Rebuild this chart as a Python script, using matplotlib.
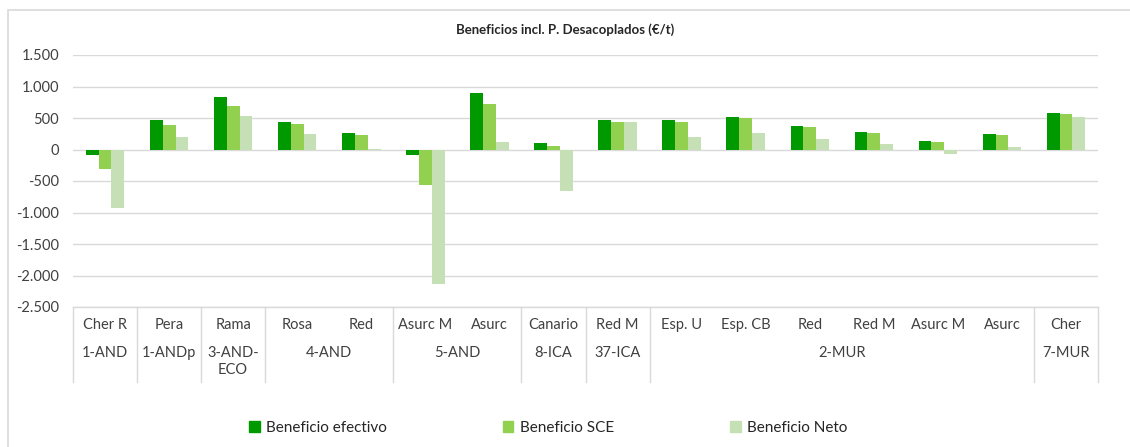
import numpy as np
import matplotlib
matplotlib.use("Agg")
import matplotlib.pyplot as plt
import matplotlib.transforms as mtransforms
from matplotlib.patches import Rectangle, Patch
from matplotlib.ticker import FuncFormatter, MultipleLocator

plt.rcParams['font.family'] = ['Lato', 'DejaVu Sans']

# data (€/t)
categories = ['Cher R', 'Pera', 'Rama', 'Rosa', 'Red', 'Asurc M', 'Asurc', 'Canario',
              'Red M', 'Esp. U', 'Esp. CB', 'Red', 'Red M', 'Asurc M', 'Asurc', 'Cher']
groups = ['1-AND', '1-ANDp', '3-AND-\nECO', '4-AND', '5-AND', '8-ICA', '37-ICA', '2-MUR', '7-MUR']
group_sizes = [1, 1, 1, 2, 2, 1, 1, 6, 1]

efectivo = [-90, 464, 828, 432, 264, -95, 897, 106, 464, 464, 512, 369, 285, 137, 248, 580]
sce = [-311, 385, 696, 406, 237, -570, 723, 63, 443, 438, 496, 353, 269, 121, 227, 570]
neto = [-933, 205, 527, 248, 3, -2137, 121, -654, 443, 200, 269, 169, 95, -79, 47, 517]

series = [('Beneficio efectivo', efectivo, '#009A00'),
          ('Beneficio SCE', sce, '#92D050'),
          ('Beneficio Neto', neto, '#C5E0B4')]

W, H = 1130, 447
fig = plt.figure(figsize=(W / 100, H / 100), dpi=100)
ax = fig.add_axes([73 / W, (H - 307) / H, (1098 - 73) / W, (307 - 55) / H])

x = np.arange(len(categories))
bw = 0.2
for i, (name, vals, col) in enumerate(series):
    ax.bar(x + (i - 1) * bw, vals, bw, color=col, zorder=3)

ax.set_xlim(-0.5, len(categories) - 0.5)
ax.set_ylim(-2500, 1500)
ax.yaxis.set_major_locator(MultipleLocator(500))
ax.yaxis.set_major_formatter(FuncFormatter(lambda v, p: f'{int(v):,}'.replace(',', '.')))
ax.grid(axis='y', color='#D9D9D9', linewidth=1, zorder=0)
for s in ax.spines.values():
    s.set_visible(False)
ax.tick_params(axis='y', length=0, pad=10, labelsize=10.5, labelcolor='#404040')
ax.set_xticks([])

# category table below the axis
tr = mtransforms.blended_transform_factory(ax.transData, ax.transAxes)
ah = 307 - 55
row1 = -(318 - 307) / ah
row2 = -(346 - 307) / ah
bottom = -(382 - 307) / ah
lc = '#D9D9D9'
ax.plot([-0.5, len(categories) - 0.5], [0, 0], color=lc, lw=1, transform=tr, clip_on=False)
for xi, lab in zip(x, categories):
    ax.text(xi, row1, lab, transform=tr, ha='center', va='top', fontsize=10.5, color='#404040')
start = 0
ax.plot([-0.5, -0.5], [0, bottom], color=lc, lw=1, transform=tr, clip_on=False)
for g, n in zip(groups, group_sizes):
    center = start + (n - 1) / 2
    ax.text(center, row2, g, transform=tr, ha='center', va='top', fontsize=10.5,
            color='#404040', linespacing=1.25)
    start += n
    ax.plot([start - 0.5, start - 0.5], [0, bottom], color=lc, lw=1, transform=tr, clip_on=False)

fig.text(565 / W, (H - 30) / H, 'Beneficios incl. P. Desacoplados (€/t)', ha='center',
         va='center', fontsize=9.5, fontweight='bold', color='#262626')

handles = [Patch(color=c, label=n) for n, v, c in series]
fig.legend(handles=handles, loc='center', bbox_to_anchor=(548 / W, (H - 428) / H), ncol=3,
           frameon=False, fontsize=11, handlelength=0.7, handleheight=0.7,
           handletextpad=0.4, columnspacing=7.6, labelcolor='#262626')

fig.patches.append(Rectangle((8 / W, -0.1), 1.2, (H - 10) / H + 0.1, transform=fig.transFigure,
                             fill=False, edgecolor='#D9D9D9', linewidth=1.2))

fig.savefig('out.png', dpi=100)
